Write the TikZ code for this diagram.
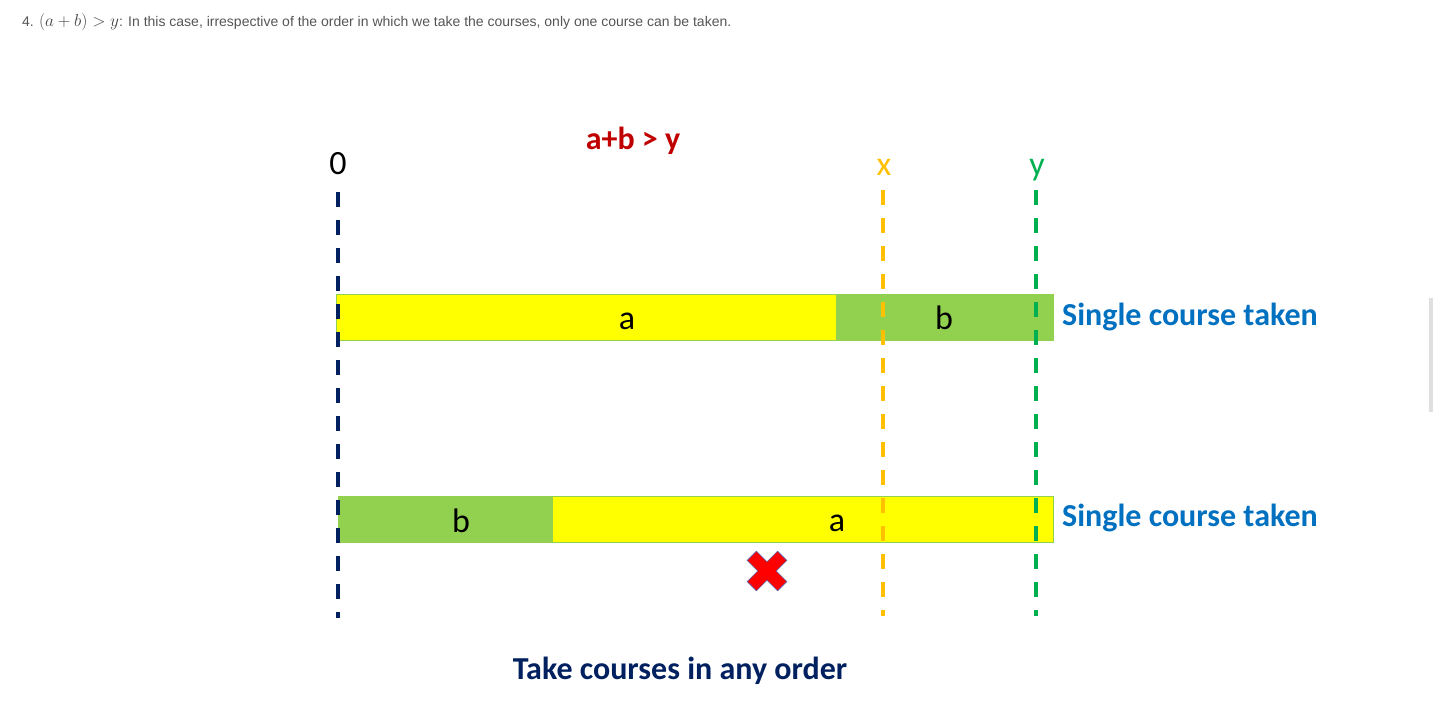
\documentclass[tikz,border=0pt]{standalone}
\usepackage{fontspec}
\setmainfont{Carlito}
\newfontfamily\hdrfont{Liberation Sans}
\definecolor{navyline}{HTML}{002060}
\definecolor{xline}{HTML}{FFC000}
\definecolor{yline}{HTML}{00B050}
\definecolor{barg}{HTML}{92D050}
\definecolor{bary}{HTML}{FFFF00}
\definecolor{redlbl}{HTML}{C00000}
\definecolor{bluelbl}{HTML}{0070C0}
\definecolor{hdrgray}{HTML}{555555}
\definecolor{mathgray}{HTML}{444444}
\tikzset{
  px/.style={x=1pt,y=-1pt},
  vline/.style={line width=3.5pt,dash pattern=on 15pt off 13pt},
  seg/.style={draw=barg,line width=0.8pt,inner sep=0pt,minimum height=46pt,anchor=west},
  lbl/.style={font=\fontsize{34}{36}\selectfont,inner sep=0pt,anchor=base},
  blue/.style={font=\fontsize{32}{34}\selectfont\bfseries,text=bluelbl,anchor=base west,inner sep=0pt},
}
\begin{document}
\begin{tikzpicture}[px]
\useasboundingbox (0,0) rectangle (1433,721);
\node[anchor=base west,inner sep=0pt,text=hdrgray,font=\hdrfont\fontsize{14}{16}\selectfont] (hdr) at (22,26) {4. {\fontsize{17}{18}\selectfont\color{mathgray}$(a+b)>y$}: In this case, irrespective of the order in which we take the courses, only one course can be taken.};
\fill[gray!25] (1429,298) rectangle (1433,412);
% bars
\node[seg,fill=bary,minimum width=500pt] (a1) at (336,317) {};
\node[seg,fill=barg,minimum width=217pt] (b1) at (836,317) {};
\node[seg,fill=barg,minimum width=214pt] (b2) at (338,519.5) {};
\node[seg,fill=bary,minimum width=501pt] (a2) at (552,519.5) {};
\node[lbl] (la1) at (627,329) {a};
\node[lbl] (lb1) at (944,329) {b};
\node[lbl] (lb2) at (461,532) {b};
\node[lbl] (la2) at (837,531) {a};
% vertical lines
\coordinate (z0) at (338,192); \coordinate (z1) at (338,618);
\coordinate (x0) at (883,190); \coordinate (x1) at (883,616);
\coordinate (y0) at (1036,190); \coordinate (y1) at (1036,616);
\draw[vline,navyline] (z0) -- (z1);
\draw[vline,xline] (x0) -- (x1);
\draw[vline,yline] (y0) -- (y1);
\node[lbl] (l0) at (338,174) {0};
\node[lbl,text=xline] (lx) at (884,175) {x};
\node[lbl,text=yline] (ly) at (1037,175) {y};
\node[font=\fontsize{32}{34}\selectfont\bfseries,text=redlbl,inner sep=0pt,anchor=base] (cond) at (633,149) {a+b > y};
\node[blue] (s1) at (1062,325) {Single course taken};
\node[blue] (s2) at (1062,526) {Single course taken};
\node[font=\fontsize{32}{34}\selectfont\bfseries,text=navyline,inner sep=0pt,anchor=base] (title) at (680,679) {Take courses in any order};
% red cross
\begin{scope}[shift={(767,571)},rotate=45]
\filldraw[fill=red,draw=gray!70!blue,line width=0.6pt]
 (21.5,6.5)--(6.5,6.5)--(6.5,21.5)--(-6.5,21.5)--(-6.5,6.5)--(-21.5,6.5)--(-21.5,-6.5)--(-6.5,-6.5)--(-6.5,-21.5)--(6.5,-21.5)--(6.5,-6.5)--(21.5,-6.5)--cycle;
\end{scope}
\end{tikzpicture}
\end{document}
